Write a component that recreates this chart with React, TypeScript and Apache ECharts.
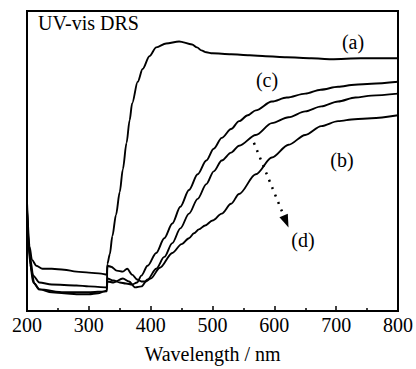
import React, { useEffect, useRef } from "react";
import * as echarts from "echarts";

const FONT = "Liberation Serif";

const xTicks = [200, 300, 400, 500, 600, 700, 800];

const wlA = [200, 203, 207, 212, 220, 240, 260, 280, 300, 315, 325, 329, 330, 334, 338, 344, 350, 355, 361, 366, 370, 379, 387, 398, 409, 425, 446, 467, 475, 482, 490, 500, 530, 560, 586, 620, 660, 692, 740, 800];
const absA = [1.01, 0.66, 0.41, 0.28, 0.22, 0.19, 0.18, 0.17, 0.17, 0.18, 0.2, 0.21, 0.48, 0.58, 0.76, 0.98, 1.21, 1.44, 1.71, 1.94, 2.11, 2.33, 2.46, 2.59, 2.68, 2.72, 2.74, 2.71, 2.68, 2.65, 2.63, 2.62, 2.61, 2.6, 2.59, 2.58, 2.57, 2.56, 2.57, 2.57];

const wlB = [200, 204, 208, 215, 225, 240, 260, 280, 300, 320, 329, 330, 336, 345, 355, 362, 370, 378, 385, 392, 400, 415, 435, 450, 462, 470, 478, 488, 500, 515, 530, 543, 570, 596, 623, 650, 676, 703, 730, 757, 800];
const absB = [1.11, 0.66, 0.52, 0.46, 0.43, 0.43, 0.42, 0.4, 0.39, 0.38, 0.37, 0.46, 0.45, 0.41, 0.4, 0.43, 0.37, 0.32, 0.3, 0.3, 0.33, 0.44, 0.59, 0.68, 0.74, 0.79, 0.83, 0.87, 0.92, 0.99, 1.09, 1.19, 1.39, 1.56, 1.69, 1.79, 1.88, 1.93, 1.95, 1.96, 1.99];

const wlC = [200, 205, 210, 220, 240, 280, 300, 329, 330, 340, 350, 360, 370, 378, 385, 395, 409, 422, 435, 448, 462, 476, 490, 502, 515, 530, 543, 557, 570, 596, 620, 650, 675, 703, 730, 757, 800];
const absC = [1.04, 0.54, 0.36, 0.29, 0.27, 0.26, 0.25, 0.24, 0.33, 0.31, 0.29, 0.28, 0.27, 0.29, 0.36, 0.46, 0.59, 0.74, 0.89, 1.06, 1.23, 1.39, 1.53, 1.65, 1.76, 1.85, 1.93, 1.99, 2.04, 2.13, 2.17, 2.21, 2.25, 2.28, 2.3, 2.31, 2.33];

const wlD = [200, 205, 210, 220, 260, 300, 329, 330, 340, 355, 365, 375, 385, 395, 409, 422, 435, 448, 462, 476, 490, 502, 515, 530, 543, 570, 596, 623, 650, 676, 703, 731, 757, 800];
const absD = [1.02, 0.48, 0.29, 0.22, 0.19, 0.19, 0.2, 0.3, 0.29, 0.33, 0.3, 0.24, 0.25, 0.32, 0.43, 0.55, 0.69, 0.84, 0.99, 1.14, 1.29, 1.42, 1.53, 1.61, 1.68, 1.79, 1.91, 1.97, 2.03, 2.08, 2.13, 2.17, 2.19, 2.21];

const arrowStart = [567, 1.71];
const arrowEnd = [619, 0.91];

const zip = (xs: number[], ys: number[]) => xs.map((x, i) => [x, ys[i]]);

export default function App() {
  const ref = useRef<HTMLDivElement>(null);
  useEffect(() => {
    if (!ref.current) return;
    const chart = echarts.init(ref.current, undefined, { renderer: "svg" });
    const lineSeries = (name: string, xs: number[], ys: number[]) => ({
      name,
      type: "line",
      data: zip(xs, ys),
      showSymbol: false,
      smooth: 0.3,
      smoothMonotone: "x",
      lineStyle: { color: "#000", width: 1.9 },
      silent: true,
    });
    const seriesD: any = lineSeries("d", wlD, absD);
    seriesD.markLine = {
      silent: true,
      symbol: ["none", "triangle"],
      symbolSize: [9, 13],
      label: { show: false },
      lineStyle: { color: "#000", width: 2.5, type: [2, 6] },
      data: [[{ coord: arrowStart }, { coord: arrowEnd }]],
    };
    const txt = (text: string, x: number, y: number) => ({
      type: "text",
      x,
      y,
      style: { text, font: `20px ${FONT}`, fill: "#000", align: "center", verticalAlign: "middle" },
    });
    chart.setOption({
      animation: false,
      backgroundColor: "#fff",
      textStyle: { fontFamily: FONT },
      grid: {
        left: 27,
        right: 16,
        top: 11,
        bottom: 53,
        show: true,
        borderColor: "#000",
        borderWidth: 2,
        backgroundColor: "transparent",
      },
      xAxis: {
        type: "value",
        min: 200,
        max: 800,
        interval: 100,
        name: "Wavelength / nm",
        nameLocation: "middle",
        nameGap: 33,
        nameTextStyle: { fontFamily: FONT, fontSize: 20, color: "#000" },
        axisLine: { show: true, lineStyle: { color: "#000", width: 2 } },
        axisTick: { show: true, inside: true, length: 5, lineStyle: { color: "#000", width: 1.5 } },
        minorTick: { show: true, splitNumber: 2, length: 3, lineStyle: { color: "#000", width: 1.5 } },
        axisLabel: {
          fontFamily: FONT,
          fontSize: 20,
          color: "#000",
          margin: 4,
          formatter: (v: number) => (xTicks.includes(v) ? String(v) : ""),
        },
        splitLine: { show: false },
      },
      yAxis: {
        type: "value",
        min: 0,
        max: 3.05,
        axisLine: { show: false },
        axisTick: { show: false },
        axisLabel: { show: false },
        splitLine: { show: false },
      },
      graphic: [
        { type: "text", x: 38, y: 13, style: { text: "UV-vis DRS", font: `20px ${FONT}`, fill: "#000" } },
        txt("(a)", 353, 42),
        txt("(c)", 267, 80),
        txt("(b)", 342, 160),
        txt("(d)", 303, 240),
      ],
      series: [
        lineSeries("a", wlA, absA),
        lineSeries("b", wlB, absB),
        lineSeries("c", wlC, absC),
        seriesD,
      ],
    });
    return () => chart.dispose();
  }, []);
  return <div ref={ref} style={{ width: 416, height: 369, position: "absolute", left: 0, top: 0 }} />;
}
